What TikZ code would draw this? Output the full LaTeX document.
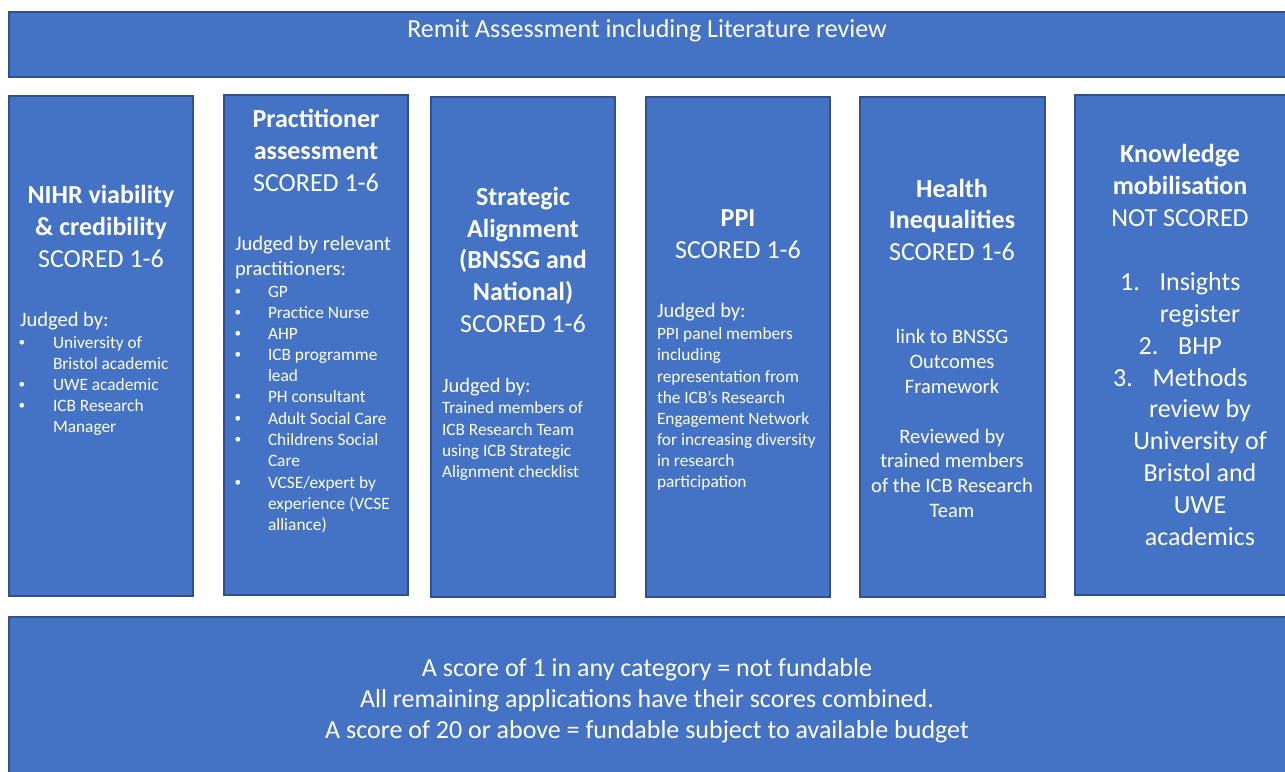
\documentclass[tikz,border=0pt]{standalone}
\usepackage{fontspec}
\setmainfont{Carlito}
\definecolor{boxfill}{HTML}{4472C4}
\definecolor{boxline}{HTML}{2F528F}
\begin{document}
\begin{tikzpicture}[x=0.75pt,y=-0.75pt,
  box/.style={draw=boxline, fill=boxfill, line width=0.8pt},
  txt/.style={text=white, inner sep=0pt, outer sep=0pt, anchor=base},
  big/.style={txt, font=\fontsize{19.5}{24}\selectfont},
  bigb/.style={txt, font=\fontsize{19.5}{24}\selectfont\bfseries},
  mid/.style={txt, font=\fontsize{15.4}{18}\selectfont},
  sml/.style={txt, font=\fontsize{13}{15.75}\selectfont},
  lft/.style={anchor=base west},
  bul/.style={txt, font=\fontsize{10}{12}\selectfont, anchor=base}
]
\useasboundingbox (0,0) rectangle (1285,771);
\clip (0,0) rectangle (1285,771);

% boxes
\path[box] (9,12) rectangle (1295,77);
\path[box] (9,96) rectangle (193,596);
\path[box] (224,95) rectangle (408,595);
\path[box] (431,97) rectangle (615,597);
\path[box] (646,97) rectangle (830,597);
\path[box] (860,97) rectangle (1045,597);
\path[box] (1075,95) rectangle (1295,595);
\path[box] (9,617) rectangle (1295,790);

% title
\node[big] (title) at (647,37) {Remit Assessment including Literature review};

% box 1
\node[bigb] (b1h1) at (101,203) {NIHR viability};
\node[bigb] (b1h2) at (101,235) {\& credibility};
\node[big] (b1s) at (101,267) {SCORED 1-6};
\node[mid,lft] (b1j) at (20,326) {Judged by:};
\foreach \t/\y [count=\i] in {{University of}/348, {Bristol academic}/369, {UWE academic}/390, {ICB Research}/411, {Manager}/432}
  \node[sml,lft] (b1l\i) at (53,\y) {\t};
\foreach \y [count=\i] in {346,388,409}
  \node[bul] (b1b\i) at (22,\y) {\textbullet};

% box 2
\node[bigb] (b2h1) at (316,127) {Practitioner};
\node[bigb] (b2h2) at (316,159) {assessment};
\node[big] (b2s) at (316,191) {SCORED 1-6};
\node[mid,lft] (b2j1) at (235,250) {Judged by relevant};
\node[mid,lft] (b2j2) at (235,275) {practitioners:};
\foreach \t/\y [count=\i] in {{GP}/297, {Practice Nurse}/318, {AHP}/339, {ICB programme}/360, {lead}/381, {PH consultant}/402, {Adult Social Care}/424, {Childrens Social}/445, {Care}/466, {VCSE/expert by}/488, {experience (VCSE}/509, {alliance)}/530}
  \node[sml,lft] (b2l\i) at (268,\y) {\t};
\foreach \y [count=\i] in {295,316,337,358,400,422,443,486}
  \node[bul] (b2b\i) at (238,\y) {\textbullet};

% box 3
\foreach \t/\y [count=\i] in {{Strategic}/205, {Alignment}/237, {(BNSSG and}/268, {National)}/300}
  \node[bigb] (b3h\i) at (523,\y) {\t};
\node[big] (b3s) at (523,332) {SCORED 1-6};
\node[mid,lft] (b3j) at (442,392) {Judged by:};
\foreach \t/\y [count=\i] in {{Trained members of}/413, {ICB Research Team}/435, {using ICB Strategic}/456, {Alignment checklist}/477}
  \node[sml,lft] (b3l\i) at (442,\y) {\t};

% box 4
\node[bigb] (b4h) at (738,226) {PPI};
\node[big] (b4s) at (738,258) {SCORED 1-6};
\node[mid,lft] (b4j) at (657,317) {Judged by:};
\foreach \t/\y [count=\i] in {{PPI panel members}/339, {including}/360, {representation from}/382, {the ICB’s Research}/403, {Engagement Network}/424, {for increasing diversity}/445, {in research}/466, {participation}/487}
  \node[sml,lft] (b4l\i) at (657,\y) {\t};

% box 5
\node[bigb] (b5h1) at (952,197) {Health};
\node[bigb] (b5h2) at (952,228) {Inequalities};
\node[big] (b5s) at (952,260) {SCORED 1-6};
\foreach \t/\y [count=\i] in {{link to BNSSG}/343, {Outcomes}/368, {Framework}/393, {Reviewed by}/443, {trained members}/467, {of the ICB Research}/492, {Team}/517}
  \node[mid] (b5l\i) at (952,\y) {\t};

% box 6
\node[bigb] (b6h1) at (1180,162) {Knowledge};
\node[bigb] (b6h2) at (1180,194) {mobilisation};
\node[big] (b6s) at (1180,226) {NOT SCORED};
\foreach \t/\y [count=\i] in {{Insights}/290, {register}/322, {BHP}/354, {Methods}/386, {review by}/417, {University of}/449, {Bristol and}/481, {UWE}/513, {academics}/545}
  \node[big] (b6l\i) at (1200,\y) {\t};
\node[big,anchor=base west] (b6n1) at ([xshift=-29.6pt]b6l1.base west) {1.};
\node[big,anchor=base west] (b6n2) at ([xshift=-29.6pt]b6l3.base west) {2.};
\node[big,anchor=base west] (b6n3) at ([xshift=-29.6pt]b6l4.base west) {3.};

% bottom
\node[big] (bot1) at (647,676) {A score of 1 in any category = not fundable};
\node[big] (bot2) at (647,707) {All remaining applications have their scores combined.};
\node[big] (bot3) at (647,738) {A score of 20 or above = fundable subject to available budget};
\end{tikzpicture}
\end{document}
